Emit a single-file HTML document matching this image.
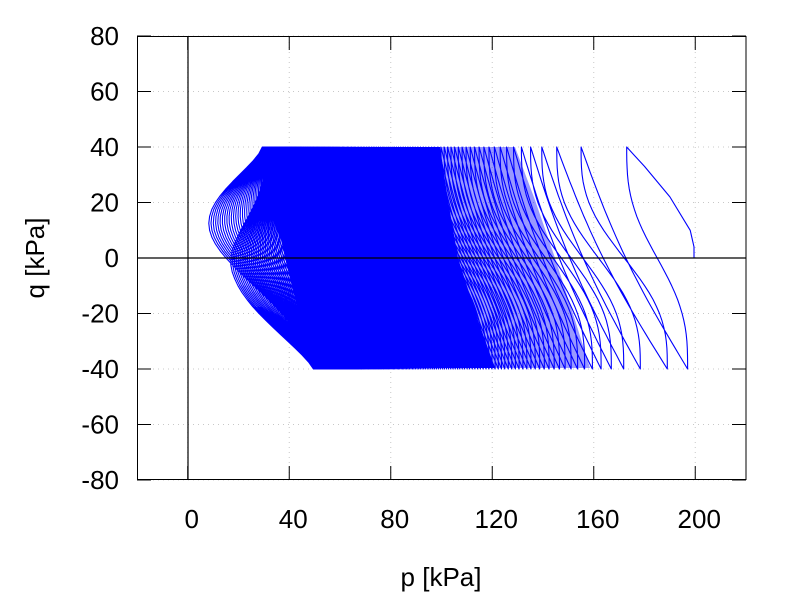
<!DOCTYPE html>
<html><head><meta charset="utf-8">
<style>
html,body{margin:0;padding:0;background:#fff;}
svg{display:block;font-family:"Liberation Sans",sans-serif;}
</style></head>
<body>
<svg id="s" width="800" height="600" viewBox="0 0 800 600" xmlns="http://www.w3.org/2000/svg">
<rect width="800" height="600" fill="#fff"/>
<g id="grid" stroke="#c8c8c8" stroke-width="1" stroke-dasharray="1,4"></g>
<polygon points="278,147 440,147 448,200 458,258 478,320 495,368 350,368 320,320 300,258 290,200" fill="#0000ff"/>
<polygon points="440,147 515,147 535,200 555,258 575,320 590,368 495,368 478,320 458,258 448,200" fill="#0000ff" fill-opacity="0.4"/>
<g id="data"></g>
<line x1="188" y1="36" x2="188" y2="480" stroke="#000" stroke-width="1.2"/>
<line x1="137" y1="258" x2="746" y2="258" stroke="#000" stroke-width="1.2"/>
<g id="ticks" stroke="#000" stroke-width="1"></g>
<rect x="137.5" y="36.5" width="608.5" height="443" fill="none" stroke="#000" stroke-width="1"/>
<g id="labels" font-size="26" fill="#000"></g>
<text x="441" y="586" font-size="26" text-anchor="middle">p [kPa]</text>
<text transform="translate(44,258) rotate(-90)" font-size="26" text-anchor="middle">q [kPa]</text>
</svg>
<script>
(function(){
var NS="http://www.w3.org/2000/svg";
function X(p){return 187.75+p*2.5375;}
function Y(q){return 258-q*2.775;}
function el(par,tag,attrs,txt){var e=document.createElementNS(NS,tag);for(var k in attrs)e.setAttribute(k,attrs[k]);if(txt!==undefined)e.textContent=txt;document.getElementById(par).appendChild(e);return e;}
for(var p=0;p<=200;p+=40){var x=X(p);
 el("grid","line",{x1:x,y1:37,x2:x,y2:479});
 el("ticks","line",{x1:x,y1:480,x2:x,y2:466});el("ticks","line",{x1:x,y1:36,x2:x,y2:50});
 el("labels","text",{x:x+4,y:528,"text-anchor":"middle"},String(p));}
for(var q=-80;q<=80;q+=20){var y=Y(q);
 el("grid","line",{x1:138,y1:y,x2:745,y2:y});
 el("ticks","line",{x1:137,y1:y,x2:151,y2:y});el("ticks","line",{x1:746,y1:y,x2:732,y2:y});
 el("labels","text",{x:119,y:y+9,"text-anchor":"end"},String(q));}
var N=300, NB=28;
function ptop(k){ if(k==0) return 173; return 28+127*Math.pow(k,-0.094)*Math.exp(-(k-1)/75);}
function pbot(k){ if(k==0) return 197; var t=ptop(k); return t+20+14*(t-28)/127;}
function bulge(k){ var r=(N-1-k)/NB; return r>=1?0:(1-r);}
var d="";
function P(p,q){return X(p).toFixed(1)+","+Y(q).toFixed(1);}
d+="M"+P(199.5,0)+"L"+P(199.5,4)+"L"+P(198,10)+"L"+P(190,22)+"L"+P(180,33)+"L"+P(173,40);
var M=32;
function bump(t,t0){ var b = t<t0 ? t/t0 : Math.pow((1-t)/(1-t0),1.6); return Math.pow(Math.sin(b*Math.PI/2),1.3);}
for(var k=0;k<N;k++){
 var pt=ptop(k),pb=pbot(k),pn=ptop(Math.min(k+1,N));
 var b1=bulge(k), b2=bulge(k+1);
 for(var i=1;i<=M;i++){var t=i/M;
  var h=t-Math.sin(2*Math.PI*t)/(2*Math.PI)*(1-b1);
  var base=pt+(pb-pt)*h;
  var target=10+(28-pt);
  var lin=pt+(pb-pt)*0.375;
  var pp=base-(lin-target)*b1*bump(t,0.375);
  d+="L"+P(pp,40-80*t);}
 for(var i=1;i<=M;i++){var t=i/M;
  var h=t+0.08*Math.sin(Math.PI*t)*(1-b2);
  var base=pb+(pn-pb)*h;
  var lin=pb+(pn-pb)*0.45;
  var target=18;
  var pp=base-(lin-target)*b2*bump(t,0.45);
  d+="L"+P(pp,-40+80*t);}
}
el("data","path",{d:d,fill:"none",stroke:"#0000ff","stroke-width":"1.1","stroke-linejoin":"round"});
})();
</script>
</body></html>
